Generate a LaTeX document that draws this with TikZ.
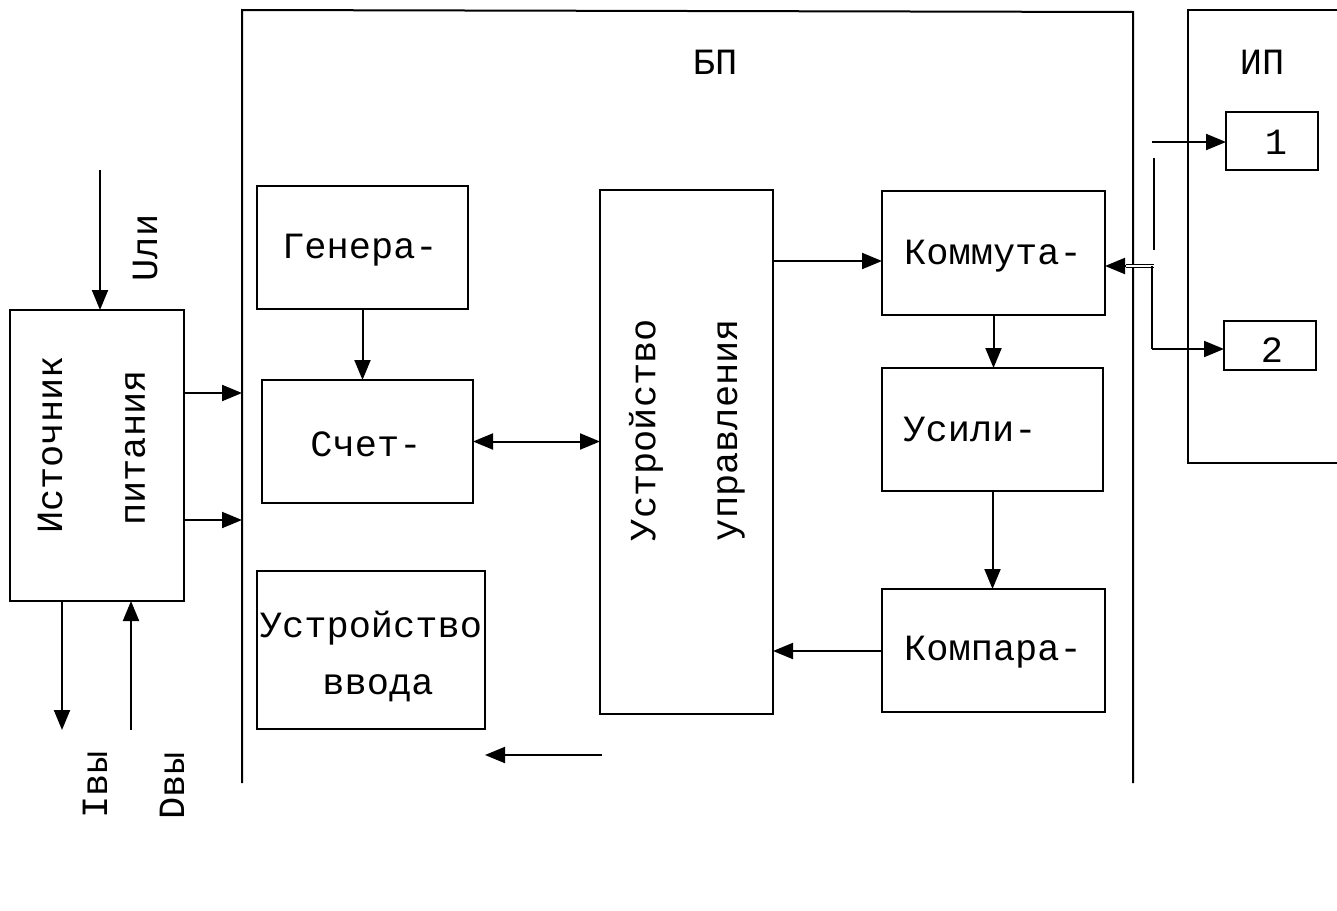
\documentclass[tikz,border=0pt]{standalone}
\usepackage{fontspec}
\newfontfamily\cour{Liberation Mono}
\usetikzlibrary{arrows.meta,calc}
\begin{document}
\begin{tikzpicture}[x=1pt,y=-1pt,
  blk/.style={draw,line width=2pt,inner sep=0pt,outer sep=0pt},
  lbl/.style={font=\cour\fontsize{37}{40}\selectfont,inner sep=0pt},
  arr/.style={line width=2pt,-{Triangle[length=20pt,width=16pt]}},
  arrb/.style={line width=2pt,{Triangle[length=20pt,width=16pt]}-{Triangle[length=20pt,width=16pt]}},
  ln/.style={line width=2pt}]
\useasboundingbox (0,0) rectangle (1337,910);
% frames
\draw[ln] (242,783) -- (242,10) -- (1133,12) -- (1133,783);
\draw[ln] (1337,10) -- (1188,10) -- (1188,463) -- (1337,463);
\node[lbl] (bp) at (715,62) {БП};
\node[lbl] (ip) at (1262,62) {ИП};
% boxes
\node[blk,minimum width=174pt,minimum height=291pt] (ist) at (97,455.5) {};
\node[blk,minimum width=211pt,minimum height=123pt] (gen) at (362.5,247.5) {};
\node[blk,minimum width=211pt,minimum height=123pt] (sch) at (367.5,441.5) {};
\node[blk,minimum width=228pt,minimum height=158pt] (vvod) at (371,650) {};
\node[blk,minimum width=173pt,minimum height=524pt] (uu) at (686.5,452) {};
\node[blk,minimum width=223pt,minimum height=124pt] (kom) at (993.5,253) {};
\node[blk,minimum width=221pt,minimum height=123pt] (us) at (992.5,429.5) {};
\node[blk,minimum width=223pt,minimum height=123pt] (kp) at (993.5,650.5) {};
\node[blk,minimum width=92pt,minimum height=58pt] (b1) at (1272,141) {};
\node[blk,minimum width=92pt,minimum height=49pt] (b2) at (1270,345.5) {};
% texts
\node[lbl,rotate=90] (t1) at (50,445) {Источник};
\node[lbl,rotate=90] (t2) at (135,448) {питания};
\node[lbl,rotate=90] (t3) at (145,248) {Uли};
\node[lbl,rotate=90] (t4) at (95,785) {Iвы};
\node[lbl,rotate=90] (t5) at (172,786) {Dвы};
\node[lbl] (t6) at (360,250) {Генера-};
\node[lbl] (t7) at (366,444) {Счет-};
\node[lbl] (t8) at (371,628) {Устройство};
\node[lbl] (t9) at (378,688) {ввода};
\node[lbl,rotate=90] (t10) at (646,430) {Устройство};
\node[lbl,rotate=90] (t11) at (731,430) {управления};
\node[lbl] (t12) at (993,256) {Коммута-};
\node[lbl] (t13) at (970,429) {Усили-};
\node[lbl] (t14) at (993,652) {Компара-};
\node[lbl] (t15) at (1276,142) {1};
\node[lbl] (t16) at (1272,350) {2};
% coordinates for free ends
\coordinate (uin) at (100,170);
\coordinate (pa) at (242,393);
\coordinate (pb) at (242,520);
\coordinate (iout) at (62,730);
\coordinate (dout) at (131,730);
\coordinate (fa) at (602,755);
\coordinate (fb) at (485,755);
\coordinate (ukl) at (773,261);
\coordinate (kpl) at (882,651);
\coordinate (c1) at (1152,142);
\coordinate (v1) at (1154,158);
\coordinate (v2) at (1154,250);
\coordinate (c2) at (1154,266);
\coordinate (c2a) at (1126,266);
\coordinate (c3) at (1152,266);
\coordinate (c4) at (1152,349);
% connectors
\draw[arr] (uin) -- (uin |- ist.north);
\draw[arr] (ist.east |- pa) -- (pa);
\draw[arr] (ist.east |- pb) -- (pb);
\draw[arr] (iout |- ist.south) -- (iout);
\draw[arr] (dout) -- (dout |- ist.south);
\draw[arr] (gen.south) -- (gen.south |- sch.north);
\draw[arrb] (sch.east) -- (sch.east -| uu.west);
\draw[arr] (ukl) -- (ukl -| kom.west);
\draw[arr] (kom.south) -- (kom.south |- us.north);
\draw[arr] (us.south) -- (us.south |- kp.north);
\draw[arr] (kpl) -- (kpl -| uu.east);
\draw[arr] (fa) -- (fb);
\draw[arr] (c1) -- (c1 -| b1.west);
\draw[ln] (v1) -- (v2);
\draw[line width=1.4pt,double,double distance=1.6pt] (c2) -- (c2a);
\draw[arr] (c2a) -- (c2a -| kom.east);
\draw[ln] (c3) -- (c4);
\draw[arr] (c4) -- (c4 -| b2.west);
\end{tikzpicture}
\end{document}
